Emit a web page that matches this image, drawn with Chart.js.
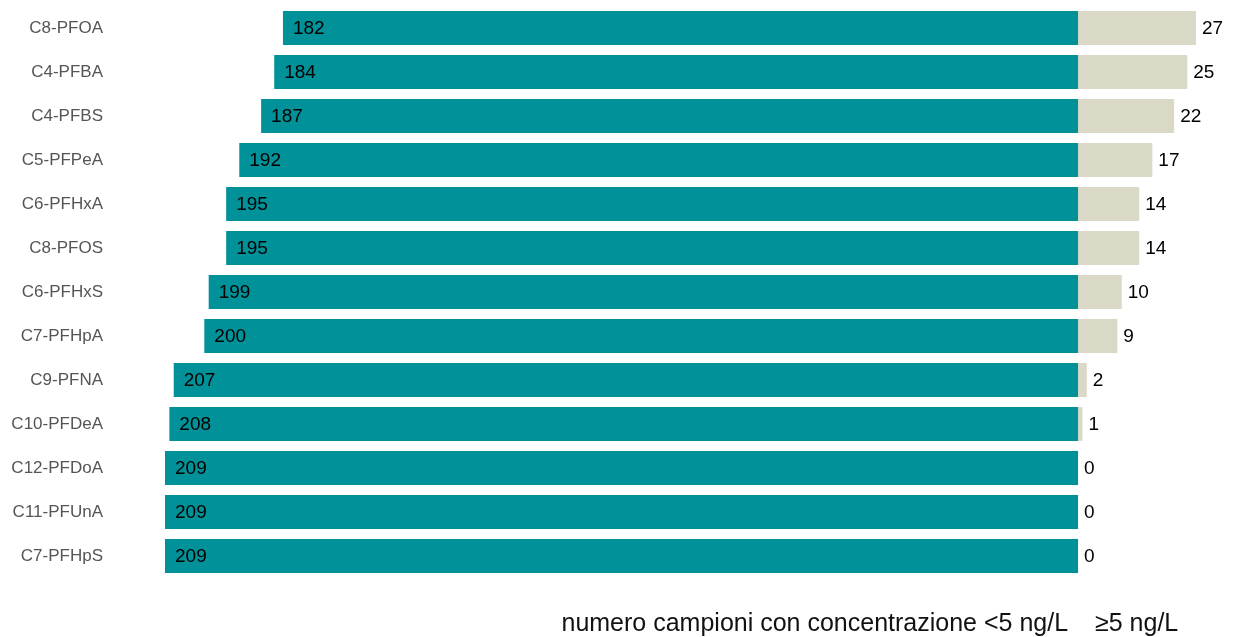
<!DOCTYPE html>
<html>
<head>
<meta charset="utf-8">
<script src="https://cdn.jsdelivr.net/npm/chart.js@4"></script>
<style>
  html, body { margin: 0; padding: 0; background: #fff; }
</style>
</head>
<body>
<canvas id="myChart" width="1233" height="637"></canvas>
<script>
// data
var categories = ['C8-PFOA', 'C4-PFBA', 'C4-PFBS', 'C5-PFPeA', 'C6-PFHxA', 'C8-PFOS', 'C6-PFHxS',
                  'C7-PFHpA', 'C9-PFNA', 'C10-PFDeA', 'C12-PFDoA', 'C11-PFUnA', 'C7-PFHpS'];
var below = [182, 184, 187, 192, 195, 195, 199, 200, 207, 208, 209, 209, 209];
var above = [27, 25, 22, 17, 14, 14, 10, 9, 2, 1, 0, 0, 0];
var legendLabels = ['numero campioni con concentrazione <5 ng/L', '\u22655 ng/L'];

var FONT = "'Liberation Sans', Arial, sans-serif";

// values on the bars + the bottom captions
var labelPlugin = {
  id: 'barLabels',
  afterDatasetsDraw(chart) {
    var ctx = chart.ctx;
    var xs = chart.scales.x;
    ctx.save();
    ctx.font = '19px ' + FONT;
    ctx.fillStyle = '#000';
    ctx.textBaseline = 'middle';
    ctx.textAlign = 'left';
    chart.getDatasetMeta(0).data.forEach(function(bar, i) {
      ctx.fillText(below[i], xs.getPixelForValue(-below[i]) + 10, bar.y + 1);
    });
    chart.getDatasetMeta(1).data.forEach(function(bar, i) {
      ctx.fillText(above[i], xs.getPixelForValue(above[i]) + 6, bar.y + 1);
    });

    ctx.font = '25px ' + FONT;
    ctx.fillStyle = '#111';
    ctx.textBaseline = 'alphabetic';
    var zero = xs.getPixelForValue(0);
    ctx.textAlign = 'right';
    ctx.fillText(legendLabels[0], zero - 10, 631);
    ctx.textAlign = 'left';
    ctx.fillText(legendLabels[1], zero + 17, 631);
    ctx.restore();
  }
};

var ctx = document.getElementById('myChart').getContext('2d');
var myChart = new Chart(ctx, {
  type: 'bar',
  data: {
    labels: categories,
    datasets: [{
      label: legendLabels[0],
      data: below.map(function(v) { return -v; }),
      backgroundColor: 'rgb(0,145,153)',
      borderWidth: 0,
      barPercentage: 0.77,
      categoryPercentage: 1
    }, {
      label: legendLabels[1],
      data: above,
      backgroundColor: 'rgb(218,216,198)',
      borderWidth: 0,
      barPercentage: 0.77,
      categoryPercentage: 1
    }]
  },
  options: {
    indexAxis: 'y',
    responsive: false,
    animation: false,
    layout: { padding: { top: 6, bottom: 59, left: 0, right: 37 } },
    plugins: {
      legend: { display: false },
      tooltip: { enabled: false }
    },
    scales: {
      x: {
        stacked: true,
        display: false,
        min: -209,
        max: 27
      },
      y: {
        stacked: true,
        grid: { display: false, drawTicks: false },
        border: { display: false },
        ticks: {
          padding: 62,
          color: '#555555',
          font: { family: FONT, size: 17 }
        },
        afterFit: function(scale) {
          scale.width = 165;
          scale.paddingTop = 0;
          scale.paddingBottom = 0;
        }
      }
    }
  },
  plugins: [labelPlugin]
});
</script>
</body>
</html>
